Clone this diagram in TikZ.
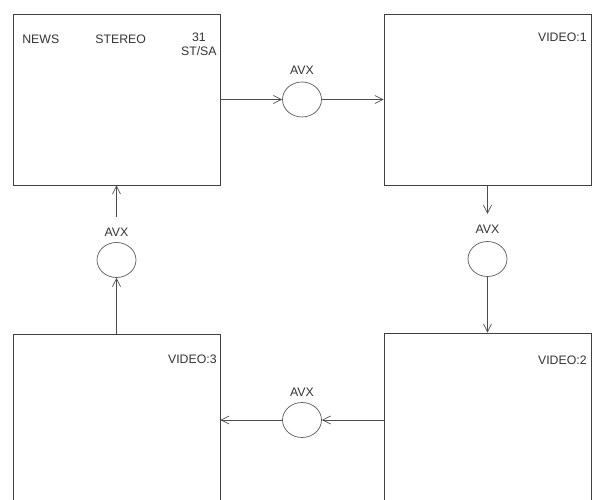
\documentclass[tikz,border=0pt]{standalone}
\usepackage{fontspec}
\setmainfont{Liberation Sans}
\usetikzlibrary{arrows.meta,positioning,shapes.geometric}

\begin{document}
\begin{tikzpicture}[x=0.02cm,y=-0.02cm,
  panel/.style={draw=black!75,minimum width=4.14cm,minimum height=3.42cm,inner sep=0pt},
  avx/.style={draw=black!65,ellipse,minimum width=0.78cm,minimum height=0.7cm,inner sep=0pt},
  tag/.style={font=\fontsize{7}{8}\selectfont,inner sep=0pt,text=black!80},
  avxtag/.style={tag,inner xsep=0pt,inner ysep=6pt},
  arr/.style={-{Straight Barb[length=1.6mm,width=1.6mm]},draw=black!70,thin}
]
  \useasboundingbox (0,0) rectangle (592,500);
  \clip (0,0) rectangle (592,500);

  % screens
  \node[panel] (news) at (116.5,99.5) {};
  \node[panel] (vid1) at (487.5,99.5) {};
  \node[panel] (vid2) at (487.5,418.5) {};
  \node[panel] (vid3) at (116.5,419.5) {};

  % screen captions
  \node[tag,anchor=west] (newsA) at (22,39) {NEWS};
  \node[tag,anchor=west] (newsB) at (95,39) {STEREO};
  \node[tag,anchor=north east,align=center] (newsC) at (217,33) {31\\ST/SA};
  \node[tag,anchor=east] (vid1t) at (587,37) {VIDEO:1};
  \node[tag,anchor=east] (vid2t) at (587,360) {VIDEO:2};
  \node[tag,anchor=east] (vid3t) at (217,359) {VIDEO:3};

  % switchers
  \node[avx] (avxT) at (302,99.5) {};
  \node[avx] (avxR) at (487.5,259) {};
  \node[avx] (avxB) at (302,420) {};
  \node[avx] (avxL) at (116.5,260) {};
  \node[avxtag] (avxTt) at (302,70) {AVX};
  \node[avxtag] (avxRt) at (487.5,229) {AVX};
  \node[avxtag] (avxBt) at (302,392) {AVX};
  \node[avxtag] (avxLt) at (116.5,232) {AVX};

  % signal path
  \draw[arr] (news.east |- avxT) -- (avxT.west);
  \draw[arr] (avxT.east) -- (vid1.west |- avxT);
  \draw[arr] (vid1.south) -- (avxRt.north);
  \draw[arr] (avxR.south) -- (vid2.north);
  \draw[arr] (vid2.west |- avxB) -- (avxB.east);
  \draw[arr] (avxB.west) -- (vid3.east |- avxB);
  \draw[arr] (vid3.north) -- (avxL.south);
  \draw[arr] (avxLt.north) -- (news.south);
\end{tikzpicture}
\end{document}
